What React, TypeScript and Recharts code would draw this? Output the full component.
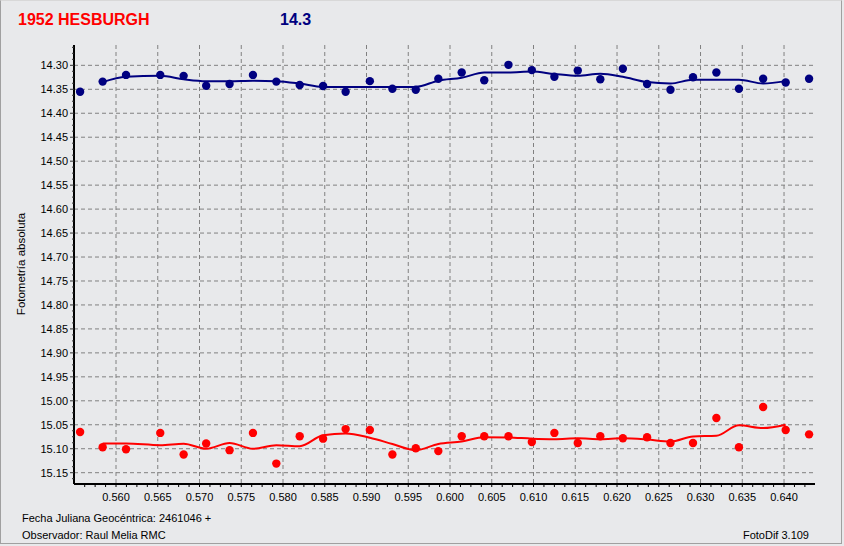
import React from 'react';
import {
  ComposedChart,
  Line,
  Scatter,
  XAxis,
  YAxis,
  CartesianGrid
} from 'recharts';

// Fecha juliana (fracción de día, + 2461046)
const jd = [
  0.5557, 0.5584, 0.5612, 0.5653, 0.5681, 0.5708, 0.5736, 0.5764, 0.5792, 0.582,
  0.5848, 0.5875, 0.5904, 0.5931, 0.5959, 0.5986, 0.6014, 0.6041, 0.607, 0.6098,
  0.6125, 0.6153, 0.618, 0.6207, 0.6236, 0.6264, 0.6291, 0.6319, 0.6346, 0.6375,
  0.6402, 0.643
];

// asteroide (azul)
const target = [
  14.355, 14.334, 14.32, 14.32, 14.322, 14.3425, 14.339, 14.32, 14.334, 14.341,
  14.343, 14.355, 14.333, 14.349, 14.351, 14.328, 14.315, 14.331, 14.299, 14.31,
  14.324, 14.311, 14.329, 14.307, 14.339, 14.351, 14.325, 14.315, 14.349, 14.328,
  14.336, 14.328
];

const targetFit = [
  null, 14.335, 14.324, 14.322, 14.329, 14.333, 14.333, 14.332, 14.333, 14.338,
  14.345, 14.345, 14.345, 14.345, 14.345, 14.332, 14.326, 14.315, 14.315, 14.313,
  14.318, 14.322, 14.3175, 14.324, 14.335, 14.338, 14.33, 14.33, 14.33, 14.338,
  14.333, null
];

// estrella de comparación (rojo)
const comp = [
  15.065, 15.097, 15.101, 15.067, 15.112, 15.089, 15.103, 15.067, 15.131, 15.074,
  15.079, 15.059, 15.061, 15.112, 15.099, 15.105, 15.074, 15.074, 15.074, 15.086,
  15.067, 15.088, 15.074, 15.078, 15.076, 15.088, 15.088, 15.036, 15.097, 15.013,
  15.061, 15.07
];

const compFit = [
  null, 15.089, 15.089, 15.0925, 15.0896, 15.1, 15.088, 15.1, 15.0925, 15.0946,
  15.0717, 15.068, 15.077, 15.09, 15.103, 15.09, 15.085, 15.076, 15.0765, 15.079,
  15.08, 15.078, 15.08, 15.078, 15.0806, 15.085, 15.0744, 15.073, 15.051, 15.057,
  15.05, null
];

const xTickLabels = [
  '0.560', '0.565', '0.570', '0.575', '0.580', '0.585', '0.590', '0.595', '0.600',
  '0.605', '0.610', '0.615', '0.620', '0.625', '0.630', '0.635', '0.640'
];

const yTickLabels = [
  '14.30', '14.35', '14.40', '14.45', '14.50', '14.55', '14.60', '14.65', '14.70',
  '14.75', '14.80', '14.85', '14.90', '14.95', '15.00', '15.05', '15.10', '15.15'
];

const X_DOMAIN: [number, number] = [0.55497, 0.64371];
const Y_DOMAIN: [number, number] = [14.2576, 15.1736];

const xMajor = xTickLabels.map(Number);
const yMajor = yTickLabels.map(Number);
// marcas menores (las principales caen dentro)
const xMinor = Array.from({ length: 70 }, (_, i) => +(0.55625 + i * 0.00125).toFixed(5));
const yMinor = Array.from({ length: 73 }, (_, i) => +(14.2625 + i * 0.0125).toFixed(4));

const rows = jd.map((t, i) => ({
  jd: t,
  v: target[i],
  vFit: targetFit[i],
  c: comp[i],
  cFit: compFit[i]
}));

const BG = '#e8e9eb';
const NAVY = '#000080';
const RED = '#ff0000';
const FONT = '"Liberation Sans", Arial, sans-serif';

const dot = (color: string) => (p: any) => (
  <circle cx={p.cx} cy={p.cy} r={4.2} fill={color} />
);

const isXMajor = (v: number) => xMajor.some((m) => Math.abs(m - v) < 1e-6);
const isYMajor = (v: number) => yMajor.some((m) => Math.abs(m - v) < 1e-6);

// etiqueta del eje Y: marca larga + texto solo en las principales
const YTick = (p: any) => {
  const v = p.payload && p.payload.value;
  if (typeof v !== 'number' || !isYMajor(v)) return <g />;
  return (
    <g>
      <line x1={p.x + 2} x2={p.x + 4} y1={p.y} y2={p.y} stroke="#333" />
      <text
        x={p.x}
        y={p.y}
        dy="0.355em"
        textAnchor="end"
        fill="#000"
        fontSize={11}
        fontFamily={FONT}
      >
        {v.toFixed(2)}
      </text>
    </g>
  );
};

// rejilla vertical solo en las marcas principales
const majorVerticals = ({ xAxis, offset }: any) => {
  const s = xAxis && xAxis.scale;
  let f: ((v: number) => number) | null = null;
  if (typeof s === 'function') f = (v) => s(v);
  else if (s && typeof s.map === 'function') f = (v) => s.map(v);
  else if (s && typeof s.scale === 'function') f = (v) => s.scale(v);
  if (f) {
    try {
      const out = xMajor.map((v) => f!(v));
      if (out.every((n) => Number.isFinite(n))) return out;
    } catch (e) {
      // fall through
    }
  }
  const [d0, d1] = X_DOMAIN;
  return xMajor.map((v) => offset.left + ((v - d0) / (d1 - d0)) * offset.width);
};

export default function App() {
  return (
    <div
      style={{
        position: 'absolute',
        left: 0,
        top: 0,
        width: 844,
        height: 546,
        background: BG,
        fontFamily: FONT
      }}
    >
      <div
        style={{
          position: 'absolute',
          left: 0,
          top: 0,
          width: 840,
          height: 542,
          borderLeft: '1px solid #a0a0a0',
          borderRight: '1px solid #a0a0a0',
          borderBottom: '1px solid #a0a0a0',
          borderTop: '1px solid #d8d8d8'
        }}
      />
      <div style={{ position: 'absolute', left: 18, top: 12, fontSize: 16, lineHeight: 1, fontWeight: 'bold', color: RED }}>
        1952 HESBURGH
      </div>
      <div style={{ position: 'absolute', left: 280, top: 12, fontSize: 16, lineHeight: 1, fontWeight: 'bold', color: NAVY }}>
        14.3
      </div>
      <div
        style={{
          position: 'absolute',
          left: 22,
          top: 264,
          fontSize: 11.5,
          lineHeight: 1,
          whiteSpace: 'nowrap',
          transform: 'translate(-50%, -50%) rotate(-90deg)',
          color: '#000'
        }}
      >
        Fotometría absoluta
      </div>

      <div style={{ position: 'absolute', left: 0, top: 0 }}>
        <ComposedChart
          width={844}
          height={546}
          data={rows}
          margin={{ top: 45, right: 29, bottom: 32, left: 0 }}
        >
          <CartesianGrid
            xAxisId="x"
            yAxisId="y"
            stroke="#808080"
            strokeDasharray="4 3"
            horizontalValues={yMajor}
            verticalCoordinatesGenerator={majorVerticals}
          />
          <XAxis
            xAxisId="x"
            dataKey="jd"
            type="number"
            domain={X_DOMAIN}
            allowDataOverflow
            ticks={xMinor}
            interval={0}
            height={30}
            tickSize={3}
            tickMargin={6}
            axisLine={{ stroke: '#000', strokeWidth: 2 }}
            tickLine={{ stroke: '#000' }}
            tick={{ fill: '#000', fontSize: 11, fontFamily: FONT }}
            tickFormatter={(v: number) => (isXMajor(v) ? v.toFixed(3) : '')}
          />
          <XAxis
            xAxisId="top"
            orientation="top"
            dataKey="jd"
            type="number"
            domain={X_DOMAIN}
            allowDataOverflow
            height={0}
            tick={false}
            tickLine={false}
            axisLine={{ stroke: '#000', strokeWidth: 1 }}
          />
          <YAxis
            yAxisId="y"
            type="number"
            reversed
            domain={Y_DOMAIN}
            allowDataOverflow
            ticks={yMinor}
            interval={0}
            width={74}
            tickSize={2}
            tickMargin={4}
            axisLine={{ stroke: '#000', strokeWidth: 2 }}
            tickLine={{ stroke: '#333' }}
            tick={YTick}
          />
          <YAxis
            yAxisId="r"
            orientation="right"
            type="number"
            domain={[0, 1]}
            width={0}
            tick={false}
            tickLine={false}
            axisLine={{ stroke: '#000', strokeWidth: 1 }}
          />

          <Line
            xAxisId="x"
            yAxisId="y"
            dataKey="vFit"
            type="monotone"
            stroke={NAVY}
            strokeWidth={2}
            dot={false}
            isAnimationActive={false}
          />
          <Line
            xAxisId="x"
            yAxisId="y"
            dataKey="cFit"
            type="monotone"
            stroke={RED}
            strokeWidth={2}
            dot={false}
            isAnimationActive={false}
          />
          <Scatter
            xAxisId="x"
            yAxisId="y"
            data={rows}
            dataKey="v"
            fill={NAVY}
            shape={dot(NAVY)}
            isAnimationActive={false}
          />
          <Scatter
            xAxisId="x"
            yAxisId="y"
            data={rows}
            dataKey="c"
            fill={RED}
            shape={dot(RED)}
            isAnimationActive={false}
          />
        </ComposedChart>
      </div>

      <div style={{ position: 'absolute', left: 22, top: 513, fontSize: 11, lineHeight: 1, color: '#000' }}>
        Fecha Juliana Geocéntrica: 2461046 +
      </div>
      <div style={{ position: 'absolute', left: 22, top: 530, fontSize: 11, lineHeight: 1, color: '#000' }}>
        Observador: Raul Melia RMC
      </div>
      <div style={{ position: 'absolute', right: 35, top: 530, fontSize: 11, lineHeight: 1, color: '#000' }}>
        FotoDif 3.109
      </div>
    </div>
  );
}
